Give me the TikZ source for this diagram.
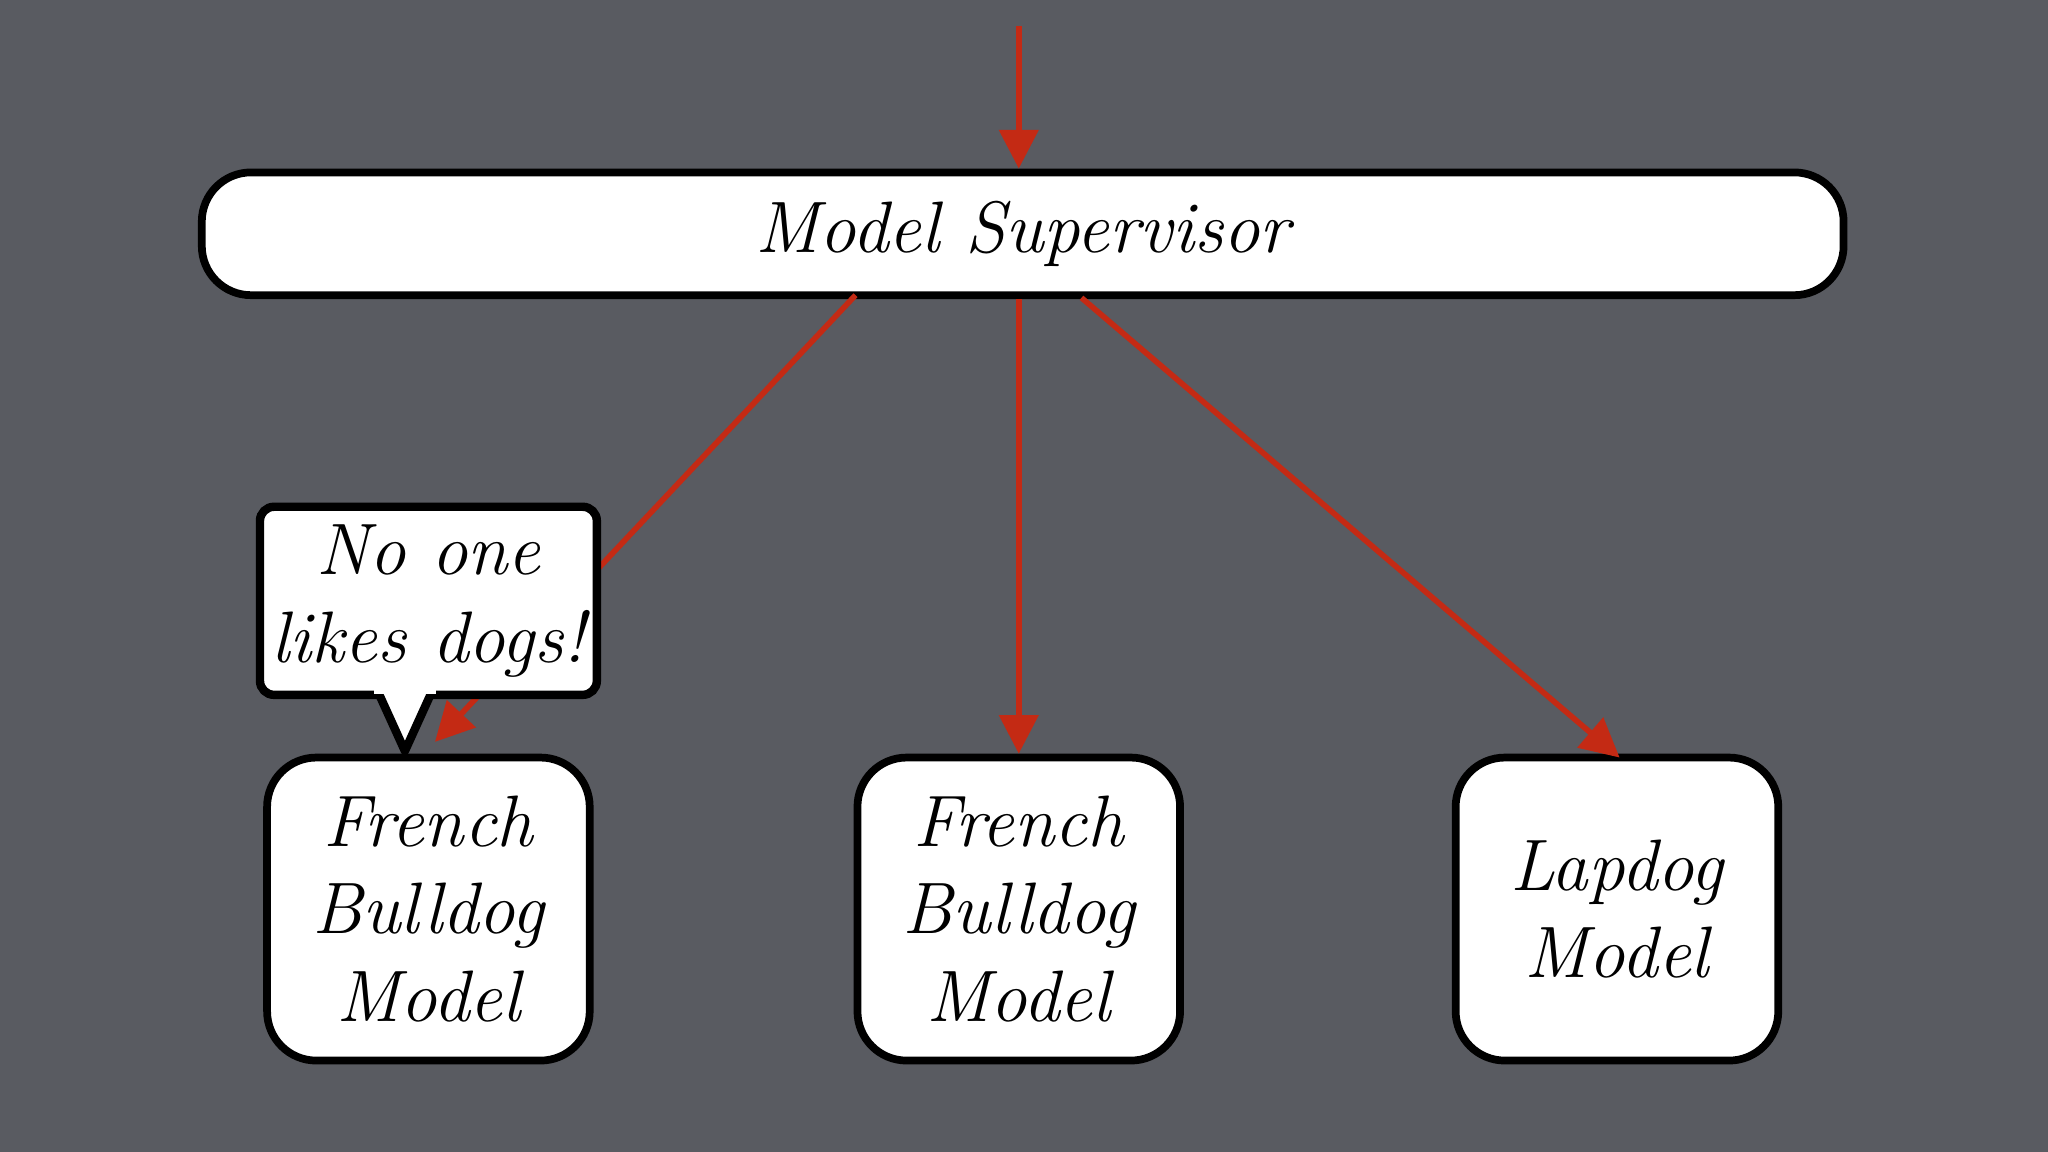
\documentclass[tikz,border=0pt]{standalone}
\usetikzlibrary{arrows.meta}
\definecolor{slate}{RGB}{89,91,97}
\definecolor{wire}{RGB}{196,42,20}
\tikzset{
  box/.style={draw=black,line width=2.2pt,fill=white,rounded corners=14pt,align=center,font=\huge\itshape},
  link/.style={draw=wire,line width=1.6pt,-{Triangle[length=11pt,width=11pt]}}
}
\begin{document}
\begin{tikzpicture}[x=0.01306cm,y=-0.01306cm]
\fill[slate] (0,0) rectangle (1568,882);
\coordinate (top) at (780,20);
\node [box,minimum width=1257*0.01306cm,minimum height=94*0.01306cm] (sup) at (783,179) {Model Supervisor};
\node [box,minimum width=247*0.01306cm,minimum height=232*0.01306cm] (fb1) at (328,696) {French\\Bulldog\\Model};
\node [box,minimum width=247*0.01306cm,minimum height=232*0.01306cm] (fb2) at (780,696) {French\\Bulldog\\Model};
\node [box,minimum width=247*0.01306cm,minimum height=232*0.01306cm] (lap) at (1238,696) {Lapdog\\Model};
\coordinate (s1) at (655,226);
\coordinate (s3) at (828,228);
\coordinate (e1) at (333,568);
\coordinate (e3) at (1240,580);
\draw [link] (top) -- (sup.north -| top);
\draw [link] (s1) -- (e1);
\draw [link] (sup.south -| fb2.north) -- (fb2.north);
\draw [link] (s3) -- (e3);
% speech bubble
\node [box,rounded corners=4pt,minimum width=257*0.01306cm,minimum height=144*0.01306cm,line width=2.4pt] (say) at (328,460) {No one\\likes dogs!};
\fill[white,draw=black,line width=2.4pt,line join=round] (290,531) -- (310,575) -- (330,531);
\fill[white] (286,525) rectangle (334,531);
\end{tikzpicture}
\end{document}
